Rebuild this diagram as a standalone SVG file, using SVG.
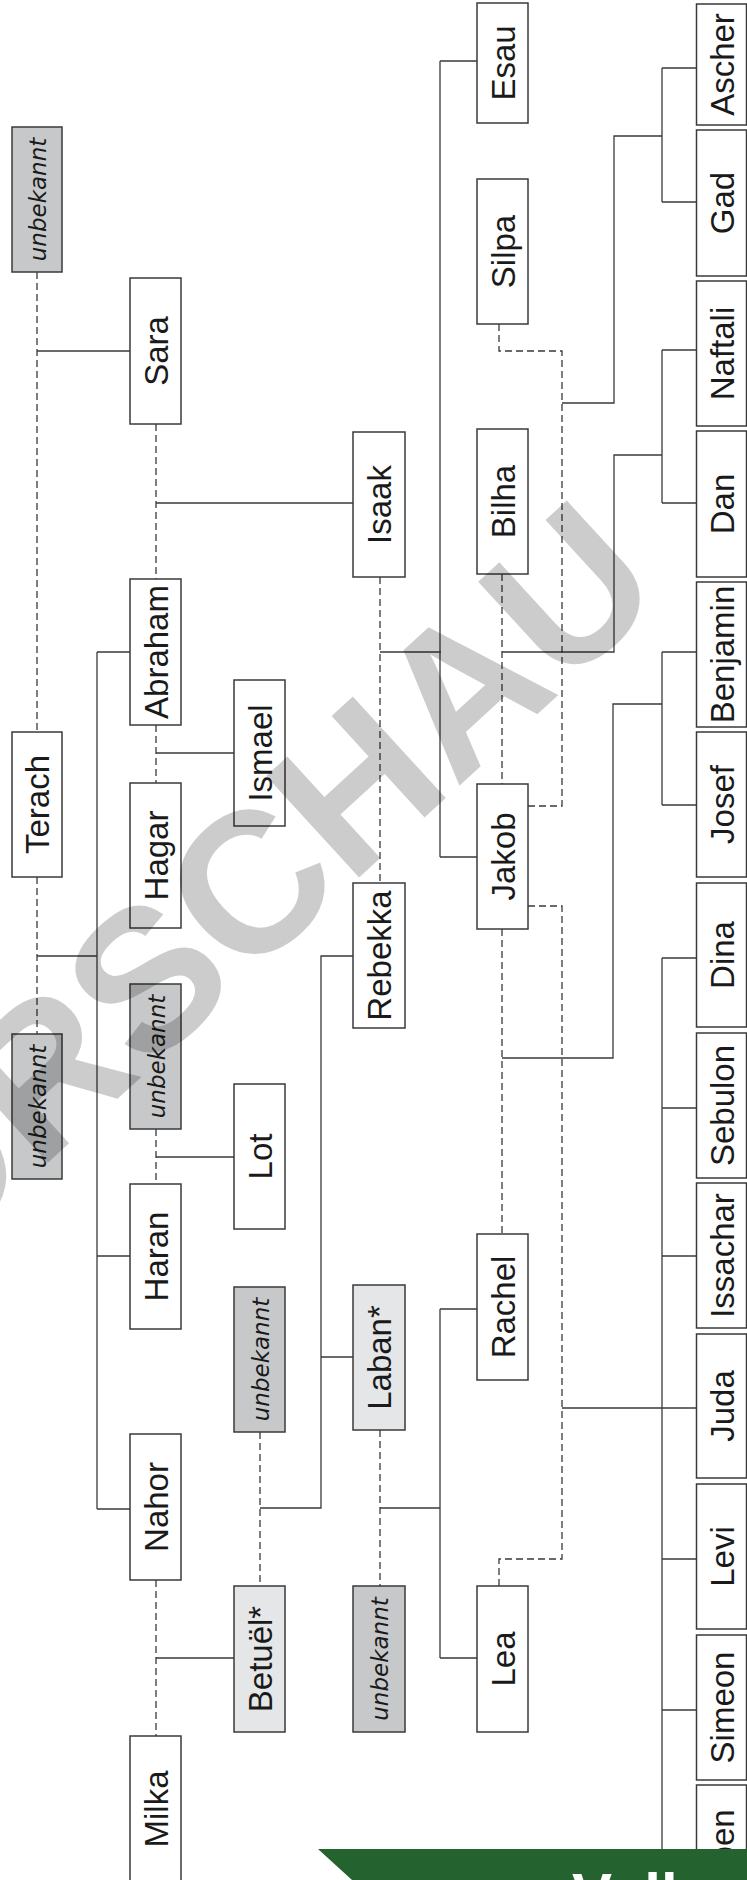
<svg xmlns="http://www.w3.org/2000/svg" width="747" height="1880" viewBox="0 0 747 1880">
<style>
.b{fill:#fff;stroke:#3a3a3a;stroke-width:1.5}
.g{fill:#c7c8ca;stroke:#3a3a3a;stroke-width:1.5}
.l{fill:#e5e6e7;stroke:#3a3a3a;stroke-width:1.5}
.n{font-family:"Liberation Sans",Arial,sans-serif;font-size:33px;fill:#1a1a1a;text-anchor:middle}
.u{font-family:"DejaVu Sans",sans-serif;font-style:italic;font-size:23px;fill:#1a1a1a;text-anchor:middle}
.s{fill:none;stroke:#3a3a3a;stroke-width:1.3}
.d{fill:none;stroke:#3a3a3a;stroke-width:1.3;stroke-dasharray:7 4}
</style>
<rect width="747" height="1880" fill="#fff"/>
<g id="connectors">
<path class="s" d="M37 351H130M37 956H97M97 652V1509M97 652H130M97 1256H130M97 1509H130M156 503H353M156 753H234M156 1157H234M156 1658H234M260 1508H321V956H353M321 1357H353M380 652H441M440 61V857M440 61H477M440 857H477M380 1508H440M440 1309V1658M440 1309H477M440 1658H477M502 652H614V455H662M662 350V503M662 350H696M662 503H696M562 403H614V136H662M662 68V202M662 68H696M662 202H696M502 1058H613V704H662M662 652V805M662 652H696M662 805H696M562 1408H696M662 958V1880M662 958H696M662 1108H696M662 1256H696M662 1559H696M662 1710H696M662 1858H696"/>
<path class="d" d="M37 272V732M37 877V1034M156 424V579M156 725V783M156 1129V1184M156 1580V1736M260 1432V1586M380 577V883M380 1430V1586M502 574V784M502 929V1234M499 324V351H562V806H528M528 906H562V1559H499V1586"/>
</g>
<g id="n-unbekannt1"><rect class="g" x="12" y="127" width="50" height="145"/><text class="u" transform="translate(37,199.5) rotate(-90)" y="9">unbekannt</text></g>
<g id="n-terach"><rect class="b" x="12" y="732" width="50" height="145"/><text class="n" transform="translate(37,804.5) rotate(-90)" y="12">Terach</text></g>
<g id="n-unbekannt2"><rect class="g" x="12" y="1034" width="50" height="145"/><text class="u" transform="translate(37,1106.5) rotate(-90)" y="9">unbekannt</text></g>
<g id="n-sara"><rect class="b" x="130" y="278" width="51" height="146"/><text class="n" transform="translate(155.5,351) rotate(-90)" y="12">Sara</text></g>
<g id="n-abraham"><rect class="b" x="130" y="579" width="51" height="146"/><text class="n" transform="translate(155.5,652) rotate(-90)" y="12">Abraham</text></g>
<g id="n-hagar"><rect class="b" x="130" y="783" width="51" height="145"/><text class="n" transform="translate(155.5,855.5) rotate(-90)" y="12">Hagar</text></g>
<g id="n-unbekannt3"><rect class="g" x="130" y="984" width="51" height="145"/><text class="u" transform="translate(155.5,1056.5) rotate(-90)" y="9">unbekannt</text></g>
<g id="n-haran"><rect class="b" x="130" y="1184" width="51" height="145"/><text class="n" transform="translate(155.5,1256.5) rotate(-90)" y="12">Haran</text></g>
<g id="n-nahor"><rect class="b" x="130" y="1434" width="51" height="146"/><text class="n" transform="translate(155.5,1507) rotate(-90)" y="12">Nahor</text></g>
<g id="n-milka"><rect class="b" x="130" y="1736" width="51" height="146"/><text class="n" transform="translate(155.5,1809) rotate(-90)" y="12">Milka</text></g>
<g id="n-ismael"><rect class="b" x="234" y="680" width="51" height="146"/><text class="n" transform="translate(259.5,753) rotate(-90)" y="12">Ismael</text></g>
<g id="n-lot"><rect class="b" x="234" y="1084" width="51" height="145"/><text class="n" transform="translate(259.5,1156.5) rotate(-90)" y="12">Lot</text></g>
<g id="n-unbekannt4"><rect class="g" x="234" y="1287" width="51" height="145"/><text class="u" transform="translate(259.5,1359.5) rotate(-90)" y="9">unbekannt</text></g>
<g id="n-betuel"><rect class="l" x="234" y="1586" width="51" height="146"/><text class="n" transform="translate(259.5,1659) rotate(-90)" y="12">Betuël*</text></g>
<g id="n-isaak"><rect class="b" x="353" y="432" width="52" height="145"/><text class="n" transform="translate(379,504.5) rotate(-90)" y="12">Isaak</text></g>
<g id="n-rebekka"><rect class="b" x="353" y="883" width="52" height="145"/><text class="n" transform="translate(379,955.5) rotate(-90)" y="12">Rebekka</text></g>
<g id="n-laban"><rect class="l" x="353" y="1285" width="52" height="145"/><text class="n" transform="translate(379,1357.5) rotate(-90)" y="12">Laban*</text></g>
<g id="n-unbekannt5"><rect class="g" x="353" y="1586" width="52" height="146"/><text class="u" transform="translate(379,1659) rotate(-90)" y="9">unbekannt</text></g>
<g id="n-esau"><rect class="b" x="477" y="3" width="51" height="120"/><text class="n" transform="translate(502.5,63) rotate(-90)" y="12">Esau</text></g>
<g id="n-silpa"><rect class="b" x="477" y="179" width="51" height="145"/><text class="n" transform="translate(502.5,251.5) rotate(-90)" y="12">Silpa</text></g>
<g id="n-bilha"><rect class="b" x="477" y="429" width="51" height="145"/><text class="n" transform="translate(502.5,501.5) rotate(-90)" y="12">Bilha</text></g>
<g id="n-jakob"><rect class="b" x="477" y="784" width="51" height="145"/><text class="n" transform="translate(502.5,856.5) rotate(-90)" y="12">Jakob</text></g>
<g id="n-rachel"><rect class="b" x="477" y="1234" width="51" height="146"/><text class="n" transform="translate(502.5,1307) rotate(-90)" y="12">Rachel</text></g>
<g id="n-lea"><rect class="b" x="477" y="1586" width="51" height="146"/><text class="n" transform="translate(502.5,1659) rotate(-90)" y="12">Lea</text></g>
<g id="n-ascher"><rect class="b" x="696.5" y="4" width="50" height="121"/><text class="n" transform="translate(721.5,64.5) rotate(-90)" y="12">Ascher</text></g>
<g id="n-gad"><rect class="b" x="696.5" y="130" width="50" height="146"/><text class="n" transform="translate(721.5,203) rotate(-90)" y="12">Gad</text></g>
<g id="n-naftali"><rect class="b" x="696.5" y="281" width="50" height="145"/><text class="n" transform="translate(721.5,353.5) rotate(-90)" y="12">Naftali</text></g>
<g id="n-dan"><rect class="b" x="696.5" y="431" width="50" height="146"/><text class="n" transform="translate(721.5,504) rotate(-90)" y="12">Dan</text></g>
<g id="n-benjamin"><rect class="b" x="696.5" y="582" width="50" height="145"/><text class="n" transform="translate(721.5,654.5) rotate(-90)" y="12">Benjamin</text></g>
<g id="n-josef"><rect class="b" x="696.5" y="732" width="50" height="145"/><text class="n" transform="translate(721.5,804.5) rotate(-90)" y="12">Josef</text></g>
<g id="n-dina"><rect class="b" x="696.5" y="883" width="50" height="144"/><text class="n" transform="translate(721.5,955) rotate(-90)" y="12">Dina</text></g>
<g id="n-sebulon"><rect class="b" x="696.5" y="1033" width="50" height="145"/><text class="n" transform="translate(721.5,1105.5) rotate(-90)" y="12">Sebulon</text></g>
<g id="n-issachar"><rect class="b" x="696.5" y="1183" width="50" height="145"/><text class="n" transform="translate(721.5,1255.5) rotate(-90)" y="12">Issachar</text></g>
<g id="n-juda"><rect class="b" x="696.5" y="1334" width="50" height="144"/><text class="n" transform="translate(721.5,1406) rotate(-90)" y="12">Juda</text></g>
<g id="n-levi"><rect class="b" x="696.5" y="1484" width="50" height="145"/><text class="n" transform="translate(721.5,1556.5) rotate(-90)" y="12">Levi</text></g>
<g id="n-simeon"><rect class="b" x="696.5" y="1635" width="50" height="145"/><text class="n" transform="translate(721.5,1707.5) rotate(-90)" y="12">Simeon</text></g>
<g id="n-ruben"><rect class="b" x="696.5" y="1785" width="50" height="146"/><text class="n" transform="translate(721.5,1858) rotate(-90)" y="12">Ruben</text></g>
<g id="watermark"><text transform="translate(-175,1367) rotate(-42.5)" font-family="Liberation Sans, Arial, sans-serif" font-weight="bold" font-size="200" fill="#000" fill-opacity="0.2">VORSCHAU</text></g>
<g id="banner"><polygon points="318,1849 747,1849 747,1880 352,1880" fill="#24622f"/><text x="572" y="1915" font-family="Liberation Sans, Arial, sans-serif" font-weight="bold" font-size="60" fill="#fff">Vollversion</text></g>
</svg>
